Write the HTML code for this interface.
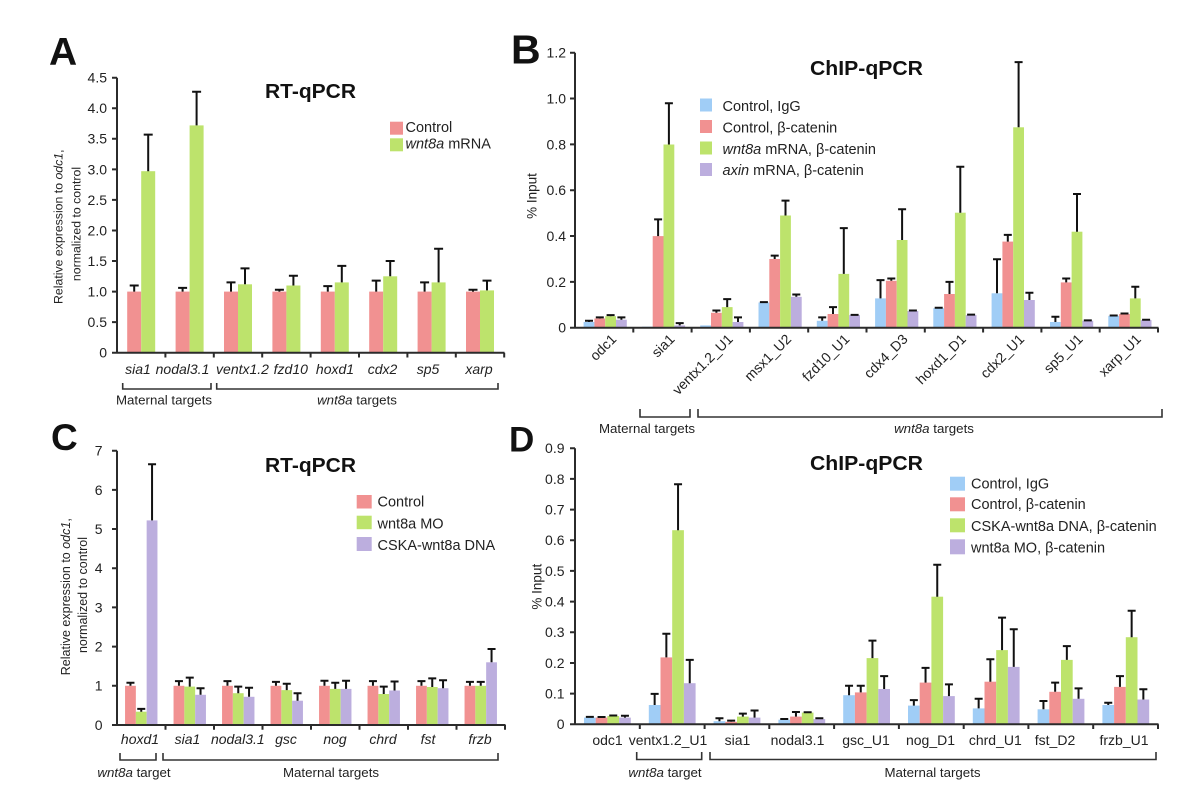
<!DOCTYPE html>
<html><head><meta charset="utf-8"><style>
html,body{margin:0;padding:0;background:#fff;}
svg{display:block;}
text{font-family:"Liberation Sans",Arial,sans-serif;fill:#222;}
.t{font-size:14px;}
.xl{font-size:14px;}
.it{font-style:italic;}
.lg{font-size:14.5px;}
.ttl{font-size:20px;font-weight:bold;fill:#111;}
.big{font-weight:bold;fill:#111;}
.ax{stroke:#2b2b2b;stroke-width:2;fill:none;}
.br{stroke:#333;stroke-width:1.6;fill:none;}
.eb{stroke:#111;stroke-width:2;fill:none;}
.r{fill:#f19191;}.g{fill:#bde36c;}.b{fill:#a0cdf6;}.p{fill:#bcaede;}
</style></head><body>
<svg width="1179" height="789" viewBox="0 0 1179 789" xmlns="http://www.w3.org/2000/svg">
<rect width="1179" height="789" fill="#fff"/>

<!-- ================= PANEL A ================= -->
<text class="big" x="49" y="65" font-size="39">A</text>
<text class="ttl" x="265" y="98" textLength="91" lengthAdjust="spacingAndGlyphs">RT-qPCR</text>
<g class="t" text-anchor="end">
<text x="107" y="357.5">0</text><text x="107" y="327">0.5</text><text x="107" y="296.4">1.0</text>
<text x="107" y="265.9">1.5</text><text x="107" y="235.4">2.0</text><text x="107" y="204.8">2.5</text>
<text x="107" y="174.3">3.0</text><text x="107" y="143.7">3.5</text><text x="107" y="113.2">4.0</text>
<text x="107" y="82.6">4.5</text>
</g>
<g font-size="12.3" text-anchor="middle">
<text transform="translate(62.5,226.7) rotate(-90)">Relative expression to <tspan font-style="italic">odc1</tspan>,</text>
<text transform="translate(80.5,224) rotate(-90)">normalized to control</text>
</g>
<!-- bars A -->
<g>
<rect class="r" x="127.2" y="291.6" width="14" height="61.1"/><rect class="g" x="141.2" y="171.2" width="14" height="181.5"/>
<rect class="r" x="175.6" y="291.6" width="14" height="61.1"/><rect class="g" x="189.6" y="125.4" width="14" height="227.3"/>
<rect class="r" x="224" y="291.6" width="14" height="61.1"/><rect class="g" x="238" y="284.3" width="14" height="68.4"/>
<rect class="r" x="272.4" y="291.6" width="14" height="61.1"/><rect class="g" x="286.4" y="285.5" width="14" height="67.2"/>
<rect class="r" x="320.8" y="291.6" width="14" height="61.1"/><rect class="g" x="334.8" y="282.4" width="14" height="70.3"/>
<rect class="r" x="369.2" y="291.6" width="14" height="61.1"/><rect class="g" x="383.2" y="276.3" width="14" height="76.4"/>
<rect class="r" x="417.6" y="291.6" width="14" height="61.1"/><rect class="g" x="431.6" y="282.4" width="14" height="70.3"/>
<rect class="r" x="466" y="291.6" width="14" height="61.1"/><rect class="g" x="480" y="290.4" width="14" height="62.3"/>
</g>
<path class="eb" d="M134.2 291.6V285.5M129.7 285.5H138.7M148.2 171.2V134.6M143.7 134.6H152.7M182.6 291.6V287.9M178.1 287.9H187.1M196.6 125.4V91.8M192.1 91.8H201.1M231 291.6V282.4M226.5 282.4H235.5M245 284.3V268.4M240.5 268.4H249.5M279.4 291.6V289.8M274.9 289.8H283.9M293.4 285.5V275.7M288.9 275.7H297.9M327.8 291.6V286.1M323.3 286.1H332.3M341.8 282.4V265.9M337.3 265.9H346.3M376.2 291.6V280.6M371.7 280.6H380.7M390.2 276.3V261M385.7 261H394.7M424.6 291.6V282.4M420.1 282.4H429.1M438.6 282.4V248.8M434.1 248.8H443.1M473 291.6V289.8M468.5 289.8H477.5M487 290.4V280.6M482.5 280.6H491.5"/>
<path class="ax" d="M117 77.7V352.7H504.5M112 77.7H117M112 108.3H117M112 138.8H117M112 169.4H117M112 199.9H117M112 230.5H117M112 261H117M112 291.6H117M112 322.1H117M112 352.7H117M165.4 352.7V357.5M213.8 352.7V357.5M262.2 352.7V357.5M310.6 352.7V357.5M359 352.7V357.5M407.4 352.7V357.5M455.8 352.7V357.5M504.2 352.7V357.5"/>
<g class="xl it" text-anchor="middle">
<text x="138" y="374">sia1</text><text x="182.5" y="374">nodal3.1</text><text x="242.5" y="374">ventx1.2</text>
<text x="290.8" y="374">fzd10</text><text x="335" y="374">hoxd1</text><text x="382.5" y="374">cdx2</text>
<text x="428" y="374">sp5</text><text x="479" y="374">xarp</text>
</g>
<path class="br" d="M122.7 383V389H211V383M216.7 383V389H498V383"/>
<g font-size="13.3" text-anchor="middle">
<text x="164" y="404.5">Maternal targets</text>
<text x="357" y="404.5"><tspan font-style="italic">wnt8a</tspan> targets</text>
</g>
<rect class="r" x="390" y="121.7" width="13" height="13"/>
<rect class="g" x="390" y="138.3" width="13" height="13"/>
<g class="lg"><text x="405.5" y="132">Control</text><text x="405.5" y="148.7"><tspan font-style="italic">wnt8a</tspan> mRNA</text></g>

<!-- ================= PANEL B ================= -->
<text class="big" x="511" y="63.3" font-size="41">B</text>
<text class="ttl" x="810" y="75" textLength="113" lengthAdjust="spacingAndGlyphs">ChIP-qPCR</text>
<g class="t" text-anchor="end">
<text x="566" y="332.6">0</text><text x="566" y="286.8">0.2</text><text x="566" y="240.9">0.4</text>
<text x="566" y="195.1">0.6</text><text x="566" y="149.3">0.8</text><text x="566" y="103.4">1.0</text>
<text x="566" y="57.6">1.2</text>
</g>
<text font-size="13.5" text-anchor="middle" transform="translate(536.4,196) rotate(-90)">% Input</text>
<g>
<rect class="b" x="583.6" y="322" width="10.8" height="5.7"/><rect class="r" x="594.4" y="318.5" width="10.8" height="9.2"/><rect class="g" x="605.2" y="316.2" width="10.8" height="11.5"/><rect class="p" x="616" y="319.7" width="10.8" height="8"/>
<rect class="b" x="641.9" y="326.7" width="10.8" height="1"/><rect class="r" x="652.7" y="236.1" width="10.8" height="91.6"/><rect class="g" x="663.5" y="144.5" width="10.8" height="183.2"/><rect class="p" x="674.3" y="325.4" width="10.8" height="2.3"/>
<rect class="b" x="700.2" y="325.4" width="10.8" height="2.3"/><rect class="r" x="711" y="312.8" width="10.8" height="14.9"/><rect class="g" x="721.8" y="307.1" width="10.8" height="20.6"/><rect class="p" x="732.6" y="322" width="10.8" height="5.7"/>
<rect class="b" x="758.5" y="302.5" width="10.8" height="25.2"/><rect class="r" x="769.3" y="259" width="10.8" height="68.7"/><rect class="g" x="780.1" y="215.5" width="10.8" height="112.2"/><rect class="p" x="790.9" y="296.8" width="10.8" height="30.9"/>
<rect class="b" x="816.8" y="320.8" width="10.8" height="6.9"/><rect class="r" x="827.6" y="314" width="10.8" height="13.7"/><rect class="g" x="838.4" y="273.9" width="10.8" height="53.8"/><rect class="p" x="849.2" y="315.1" width="10.8" height="12.6"/>
<rect class="b" x="875.1" y="298.4" width="10.8" height="29.3"/><rect class="r" x="885.9" y="280.8" width="10.8" height="46.9"/><rect class="g" x="896.7" y="240" width="10.8" height="87.7"/><rect class="p" x="907.5" y="311" width="10.8" height="16.7"/>
<rect class="b" x="933.3" y="308.2" width="10.8" height="19.5"/><rect class="r" x="944.1" y="294" width="10.8" height="33.7"/><rect class="g" x="954.9" y="212.7" width="10.8" height="115"/><rect class="p" x="965.7" y="315.1" width="10.8" height="12.6"/>
<rect class="b" x="991.6" y="293.3" width="10.8" height="34.4"/><rect class="r" x="1002.4" y="241.6" width="10.8" height="86.1"/><rect class="g" x="1013.2" y="127.3" width="10.8" height="200.4"/><rect class="p" x="1024" y="300" width="10.8" height="27.7"/>
<rect class="b" x="1050" y="322" width="10.8" height="5.7"/><rect class="r" x="1060.8" y="282.4" width="10.8" height="45.3"/><rect class="g" x="1071.6" y="231.7" width="10.8" height="96"/><rect class="p" x="1082.4" y="320.8" width="10.8" height="6.9"/>
<rect class="b" x="1108.3" y="315.8" width="10.8" height="11.9"/><rect class="r" x="1119.1" y="314" width="10.8" height="13.7"/><rect class="g" x="1129.9" y="298.4" width="10.8" height="29.3"/><rect class="p" x="1140.7" y="320.1" width="10.8" height="7.6"/>
</g>
<path class="eb" d="M589 322V320.8M585 320.8H593M599.8 318.5V317.4M595.8 317.4H603.8M610.6 316.2V315.1M606.6 315.1H614.6M621.4 319.7V317.4M617.4 317.4H625.4M658.1 236.1V219.4M654.1 219.4H662.1M668.9 144.5V103.3M664.9 103.3H672.9M679.7 325.4V323.1M675.7 323.1H683.7M716.4 312.8V310.5M712.4 310.5H720.4M727.2 307.1V299.1M723.2 299.1H731.2M738 322V317.4M734 317.4H742M759.9 302.1H767.9M774.7 259V255.6M770.7 255.6H778.7M785.5 215.5V200.6M781.5 200.6H789.5M796.3 296.8V294.5M792.3 294.5H800.3M822.2 320.8V317.4M818.2 317.4H826.2M833 314V307.1M829 307.1H837M843.8 273.9V228.1M839.8 228.1H847.8M850.6 314.9H858.6M880.5 298.4V280.1M876.5 280.1H884.5M891.3 280.8V278.5M887.3 278.5H895.3M902.1 240V209.3M898.1 209.3H906.1M908.9 310.5H916.9M934.7 307.8H942.7M949.5 294V281.9M945.5 281.9H953.5M960.3 212.7V166.7M956.3 166.7H964.3M967.1 314.6H975.1M997 293.3V259.2M993 259.2H1001M1007.8 241.6V234.9M1003.8 234.9H1011.8M1018.6 127.3V62.1M1014.6 62.1H1022.6M1029.4 300V292.7M1025.4 292.7H1033.4M1055.4 322V316.7M1051.4 316.7H1059.4M1066.2 282.4V278.5M1062.2 278.5H1070.2M1077 231.7V194M1073 194H1081M1083.8 320.4H1091.8M1109.7 315.5H1117.7M1120.5 313.5H1128.5M1135.3 298.4V286.7M1131.3 286.7H1139.3M1142.1 319.8H1150.1"/>
<path class="ax" d="M575 52.7V327.7H1158.5M570 52.7H575M570 98.5H575M570 144.4H575M570 190.2H575M570 236H575M570 281.9H575M570 327.7H575M633.3 327.7V332.5M691.6 327.7V332.5M749.9 327.7V332.5M808.2 327.7V332.5M866.5 327.7V332.5M924.8 327.7V332.5M983.1 327.7V332.5M1041.4 327.7V332.5M1099.7 327.7V332.5M1158 327.7V332.5"/>
<g class="xl" text-anchor="end">
<text transform="translate(617.2,340) rotate(-45)">odc1</text>
<text transform="translate(675.5,340) rotate(-45)">sia1</text>
<text transform="translate(733.8,340) rotate(-45)">ventx1.2_U1</text>
<text transform="translate(792.1,340) rotate(-45)">msx1_U2</text>
<text transform="translate(850.4,340) rotate(-45)">fzd10_U1</text>
<text transform="translate(908.7,340) rotate(-45)">cdx4_D3</text>
<text transform="translate(966.9,340) rotate(-45)">hoxd1_D1</text>
<text transform="translate(1025.2,340) rotate(-45)">cdx2_U1</text>
<text transform="translate(1083.6,340) rotate(-45)">sp5_U1</text>
<text transform="translate(1141.9,340) rotate(-45)">xarp_U1</text>
</g>
<path class="br" d="M640 409V417H690V409M698 409V417H1162V409"/>
<g font-size="13.3" text-anchor="middle">
<text x="647" y="433">Maternal targets</text>
<text x="934" y="433"><tspan font-style="italic">wnt8a</tspan> targets</text>
</g>
<rect class="b" x="700" y="98.5" width="12" height="13"/>
<rect class="r" x="700" y="120" width="12" height="13"/>
<rect class="g" x="700" y="141.5" width="12" height="13"/>
<rect class="p" x="700" y="163" width="12" height="13"/>
<g class="lg">
<text x="722.5" y="111">Control, IgG</text>
<text x="722.5" y="132.3">Control, β-catenin</text>
<text x="722.5" y="154"><tspan font-style="italic">wnt8a</tspan> mRNA, β-catenin</text>
<text x="722.5" y="175"><tspan font-style="italic">axin</tspan> mRNA, β-catenin</text>
</g>

<!-- ================= PANEL C ================= -->
<text class="big" x="51" y="450" font-size="37">C</text>
<text class="ttl" x="265" y="472" textLength="91" lengthAdjust="spacingAndGlyphs">RT-qPCR</text>
<g class="t" text-anchor="end">
<text x="102.5" y="729.9">0</text><text x="102.5" y="690.7">1</text><text x="102.5" y="651.5">2</text>
<text x="102.5" y="612.3">3</text><text x="102.5" y="573.1">4</text><text x="102.5" y="533.9">5</text>
<text x="102.5" y="494.8">6</text><text x="102.5" y="455.6">7</text>
</g>
<g font-size="12.5" text-anchor="middle">
<text transform="translate(70.2,596.7) rotate(-90)">Relative expression to <tspan font-style="italic">odc1</tspan>,</text>
<text transform="translate(87.2,595) rotate(-90)">normalized to control</text>
</g>
<g>
<rect class="r" x="125.05" y="685.8" width="10.8" height="39.2"/><rect class="g" x="135.85" y="711.7" width="10.8" height="13.3"/><rect class="p" x="146.65" y="520.4" width="10.8" height="204.6"/>
<rect class="r" x="173.55" y="685.8" width="10.8" height="39.2"/><rect class="g" x="184.35" y="686.6" width="10.8" height="38.4"/><rect class="p" x="195.15" y="694.8" width="10.8" height="30.2"/>
<rect class="r" x="222.05" y="685.8" width="10.8" height="39.2"/><rect class="g" x="232.85" y="693.2" width="10.8" height="31.8"/><rect class="p" x="243.65" y="696.8" width="10.8" height="28.2"/>
<rect class="r" x="270.55" y="685.8" width="10.8" height="39.2"/><rect class="g" x="281.35" y="690.1" width="10.8" height="34.9"/><rect class="p" x="292.15" y="700.7" width="10.8" height="24.3"/>
<rect class="r" x="319.05" y="685.8" width="10.8" height="39.2"/><rect class="g" x="329.85" y="688.9" width="10.8" height="36.1"/><rect class="p" x="340.65" y="688.9" width="10.8" height="36.1"/>
<rect class="r" x="367.55" y="685.8" width="10.8" height="39.2"/><rect class="g" x="378.35" y="694" width="10.8" height="31"/><rect class="p" x="389.15" y="690.5" width="10.8" height="34.5"/>
<rect class="r" x="416.05" y="685.8" width="10.8" height="39.2"/><rect class="g" x="426.85" y="687" width="10.8" height="38"/><rect class="p" x="437.65" y="688.2" width="10.8" height="36.8"/>
<rect class="r" x="464.55" y="685.8" width="10.8" height="39.2"/><rect class="g" x="475.35" y="685.8" width="10.8" height="39.2"/><rect class="p" x="486.15" y="662.3" width="10.8" height="62.7"/>
</g>
<path class="eb" d="M130.45 685.8V682.7M126.45 682.7H134.45M141.25 711.7V708.9M137.25 708.9H145.25M152.05 520.4V464.3M148.05 464.3H156.05M178.95 685.8V681.1M174.95 681.1H182.95M189.75 686.6V677.6M185.75 677.6H193.75M200.55 694.8V688.2M196.55 688.2H204.55M227.45 685.8V681.1M223.45 681.1H231.45M238.25 693.2V686.6M234.25 686.6H242.25M249.05 696.8V687.8M245.05 687.8H253.05M275.95 685.8V681.9M271.95 681.9H279.95M286.75 690.1V683.8M282.75 683.8H290.75M297.55 700.7V693.2M293.55 693.2H301.55M324.45 685.8V680.7M320.45 680.7H328.45M335.25 688.9V682.7M331.25 682.7H339.25M346.05 688.9V680.7M342.05 680.7H350.05M372.95 685.8V681.1M368.95 681.1H376.95M383.75 694V686.6M379.75 686.6H387.75M394.55 690.5V681.5M390.55 681.5H398.55M421.45 685.8V681.1M417.45 681.1H425.45M432.25 687V678.4M428.25 678.4H436.25M443.05 688.2V680.3M439.05 680.3H447.05M469.95 685.8V681.9M465.95 681.9H473.95M480.75 685.8V681.9M476.75 681.9H484.75M491.55 662.3V649M487.55 649H495.55"/>
<path class="ax" d="M117 450.7V725H505.5M112 450.7H117M112 489.9H117M112 529H117M112 568.2H117M112 607.4H117M112 646.6H117M112 685.8H117M112 725H117M165.5 725V729.8M214 725V729.8M262.5 725V729.8M311 725V729.8M359.5 725V729.8M408 725V729.8M456.5 725V729.8M505 725V729.8"/>
<g class="xl it" text-anchor="middle">
<text x="140" y="744">hoxd1</text><text x="187.5" y="744">sia1</text><text x="237.8" y="744">nodal3.1</text>
<text x="286" y="744">gsc</text><text x="335" y="744">nog</text><text x="383" y="744">chrd</text>
<text x="428" y="744">fst</text><text x="480" y="744">frzb</text>
</g>
<path class="br" d="M120 753V760H156V753M163 753V760H498V753"/>
<g font-size="13.3" text-anchor="middle">
<text x="134" y="777"><tspan font-style="italic">wnt8a</tspan> target</text>
<text x="331" y="777">Maternal targets</text>
</g>
<rect class="r" x="356.7" y="495" width="15" height="13.5"/>
<rect class="g" x="356.7" y="515.7" width="15" height="13.5"/>
<rect class="p" x="356.7" y="537" width="15" height="14"/>
<g class="lg">
<text x="377.5" y="506.7">Control</text>
<text x="377.5" y="528.3">wnt8a MO</text>
<text x="377.5" y="550">CSKA-wnt8a DNA</text>
</g>

<!-- ================= PANEL D ================= -->
<text class="big" x="509" y="451.7" font-size="35">D</text>
<text class="ttl" x="810" y="470" textLength="113" lengthAdjust="spacingAndGlyphs">ChIP-qPCR</text>
<g class="t" text-anchor="end">
<text x="564.5" y="729.2">0</text><text x="564.5" y="698.5">0.1</text><text x="564.5" y="667.9">0.2</text>
<text x="564.5" y="637.2">0.3</text><text x="564.5" y="606.5">0.4</text><text x="564.5" y="575.8">0.5</text>
<text x="564.5" y="545.2">0.6</text><text x="564.5" y="514.5">0.7</text><text x="564.5" y="483.8">0.8</text>
<text x="564.5" y="453.2">0.9</text>
</g>
<text font-size="13.5" text-anchor="middle" transform="translate(541.4,586.7) rotate(-90)">% Input</text>
<g>
<rect class="b" x="584" y="717.6" width="11.7" height="6.7"/><rect class="r" x="595.7" y="717.6" width="11.7" height="6.7"/><rect class="g" x="607.4" y="716" width="11.7" height="8.3"/><rect class="p" x="619.1" y="717.6" width="11.7" height="6.7"/>
<rect class="b" x="648.8" y="705" width="11.7" height="19.3"/><rect class="r" x="660.5" y="657.4" width="11.7" height="66.9"/><rect class="g" x="672.2" y="530.2" width="11.7" height="194.1"/><rect class="p" x="683.9" y="683.2" width="11.7" height="41.1"/>
<rect class="b" x="713.6" y="721.2" width="11.7" height="3.1"/><rect class="r" x="725.3" y="721.8" width="11.7" height="2.5"/><rect class="g" x="737" y="716.6" width="11.7" height="7.7"/><rect class="p" x="748.7" y="717.6" width="11.7" height="6.7"/>
<rect class="b" x="778.4" y="719.7" width="11.7" height="4.6"/><rect class="r" x="790.1" y="716.6" width="11.7" height="7.7"/><rect class="g" x="801.8" y="712.6" width="11.7" height="11.7"/><rect class="p" x="813.5" y="719.1" width="11.7" height="5.2"/>
<rect class="b" x="843.2" y="695.2" width="11.7" height="29.1"/><rect class="r" x="854.9" y="692.4" width="11.7" height="31.9"/><rect class="g" x="866.6" y="658.1" width="11.7" height="66.2"/><rect class="p" x="878.3" y="689" width="11.7" height="35.3"/>
<rect class="b" x="908" y="705.6" width="11.7" height="18.7"/><rect class="r" x="919.7" y="682.6" width="11.7" height="41.7"/><rect class="g" x="931.4" y="596.7" width="11.7" height="127.6"/><rect class="p" x="943.1" y="696.1" width="11.7" height="28.2"/>
<rect class="b" x="972.8" y="708.4" width="11.7" height="15.9"/><rect class="r" x="984.5" y="681.7" width="11.7" height="42.6"/><rect class="g" x="996.2" y="650.1" width="11.7" height="74.2"/><rect class="p" x="1007.9" y="666.9" width="11.7" height="57.4"/>
<rect class="b" x="1037.6" y="709.3" width="11.7" height="15"/><rect class="r" x="1049.3" y="691.8" width="11.7" height="32.5"/><rect class="g" x="1061" y="659.9" width="11.7" height="64.4"/><rect class="p" x="1072.7" y="698.8" width="11.7" height="25.5"/>
<rect class="b" x="1102.4" y="705" width="11.7" height="19.3"/><rect class="r" x="1114.1" y="686.9" width="11.7" height="37.4"/><rect class="g" x="1125.8" y="637.2" width="11.7" height="87.1"/><rect class="p" x="1137.5" y="699.5" width="11.7" height="24.8"/>
</g>
<path class="eb" d="M585.85 716.9H593.85M597.55 717H605.55M613.25 716V715.5M609.25 715.5H617.25M624.95 717.6V715.7M620.95 715.7H628.95M654.65 705V693.9M650.65 693.9H658.65M666.35 657.4V633.8M662.35 633.8H670.35M678.05 530.2V484.2M674.05 484.2H682.05M689.75 683.2V659.9M685.75 659.9H693.75M719.45 721.2V718.2M715.45 718.2H723.45M731.15 721.8V720.6M727.15 720.6H735.15M742.85 716.6V713.6M738.85 713.6H746.85M754.55 717.6V710.5M750.55 710.5H758.55M780.25 719H788.25M795.95 716.6V712M791.95 712H799.95M803.65 712.3H811.65M819.35 719.1V718.2M815.35 718.2H823.35M849.05 695.2V685.7M845.05 685.7H853.05M860.75 692.4V685.7M856.75 685.7H864.75M872.45 658.1V640.6M868.45 640.6H876.45M884.15 689V676.1M880.15 676.1H888.15M913.85 705.6V700.1M909.85 700.1H917.85M925.55 682.6V667.9M921.55 667.9H929.55M937.25 596.7V564.8M933.25 564.8H941.25M948.95 696.1V684.4M944.95 684.4H952.95M978.65 708.4V698.8M974.65 698.8H982.65M990.35 681.7V659.3M986.35 659.3H994.35M1002.05 650.1V617.6M998.05 617.6H1006.05M1013.75 666.9V629.2M1009.75 629.2H1017.75M1043.45 709.3V701M1039.45 701H1047.45M1055.15 691.8V682.6M1051.15 682.6H1059.15M1066.85 659.9V646.1M1062.85 646.1H1070.85M1078.55 698.8V688.4M1074.55 688.4H1082.55M1108.25 705V702.8M1104.25 702.8H1112.25M1119.95 686.9V676.1M1115.95 676.1H1123.95M1131.65 637.2V610.8M1127.65 610.8H1135.65M1143.35 699.5V689.3M1139.35 689.3H1147.35"/>
<path class="ax" d="M575 448.3V724.3H1158.5M570 448.3H575M570 478.9H575M570 509.6H575M570 540.3H575M570 570.9H575M570 601.6H575M570 632.3H575M570 663H575M570 693.6H575M570 724.3H575M639.8 724.3V729M704.6 724.3V729M769.3 724.3V729M834.1 724.3V729M898.9 724.3V729M963.7 724.3V729M1028.4 724.3V729M1093.2 724.3V729M1158 724.3V729"/>
<g class="xl" text-anchor="middle">
<text x="607.5" y="745">odc1</text><text x="668" y="745">ventx1.2_U1</text><text x="737.5" y="745">sia1</text>
<text x="797.5" y="745">nodal3.1</text><text x="866" y="745">gsc_U1</text><text x="930.5" y="745">nog_D1</text>
<text x="995.3" y="745">chrd_U1</text><text x="1055" y="745">fst_D2</text><text x="1124" y="745">frzb_U1</text>
</g>
<path class="br" d="M636.7 752V759.5H701.7V752M710 752V759.5H1156V752"/>
<g font-size="13.3" text-anchor="middle">
<text x="665" y="777"><tspan font-style="italic">wnt8a</tspan> target</text>
<text x="932.5" y="777">Maternal targets</text>
</g>
<rect class="b" x="950" y="476.7" width="15" height="14"/>
<rect class="r" x="950" y="497.3" width="15" height="14"/>
<rect class="g" x="950" y="518.3" width="15" height="14"/>
<rect class="p" x="950" y="539.3" width="15" height="15"/>
<g class="lg">
<text x="971" y="488.3">Control, IgG</text>
<text x="971" y="509">Control, β-catenin</text>
<text x="971" y="531">CSKA-wnt8a DNA, β-catenin</text>
<text x="971" y="552.3">wnt8a MO, β-catenin</text>
</g>
</svg>
</body></html>
